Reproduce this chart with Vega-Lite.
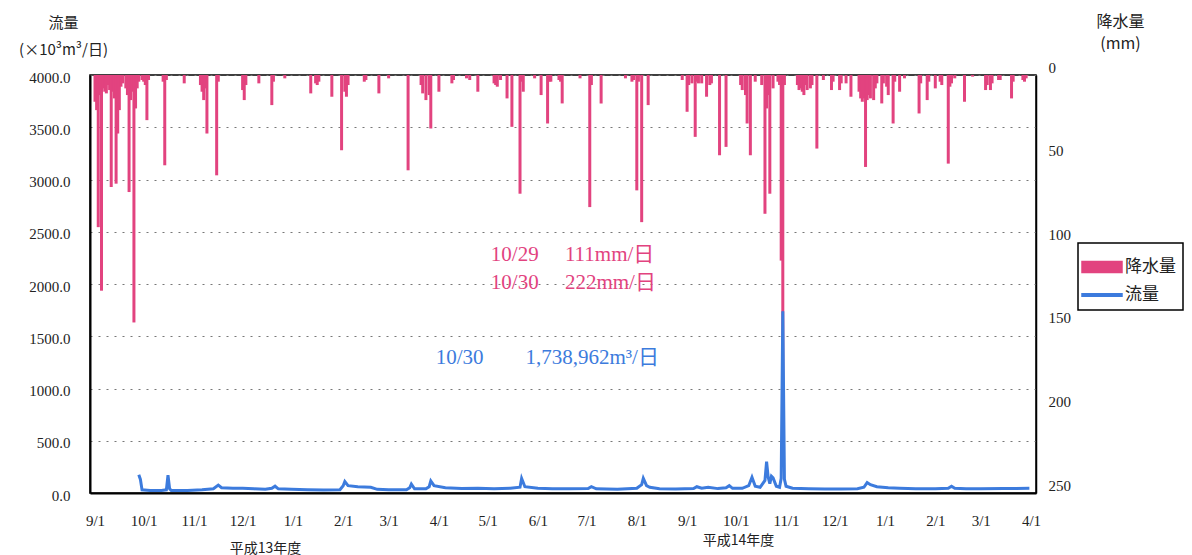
{
  "$schema": "https://vega.github.io/schema/vega-lite/v6.json",
  "width": 946,
  "height": 418,
  "autosize": {"type": "none"},
  "padding": {"left": 90, "top": 75, "right": 156, "bottom": 62},
  "background": "white",
  "config": {
    "view": {"stroke": "black", "strokeWidth": 1.5},
    "axis": {"labelColor": "#222", "titleColor": "#222", "titleFontWeight": "normal"}
  },
  "datasets": {
    "rain": [
      {"date": "2001/09/01", "mm": 16}, {"date": "2001/09/02", "mm": 21}, {"date": "2001/09/03", "mm": 91},
      {"date": "2001/09/04", "mm": 12}, {"date": "2001/09/05", "mm": 129}, {"date": "2001/09/06", "mm": 8},
      {"date": "2001/09/07", "mm": 10}, {"date": "2001/09/08", "mm": 11}, {"date": "2001/09/09", "mm": 6},
      {"date": "2001/09/10", "mm": 9}, {"date": "2001/09/11", "mm": 67}, {"date": "2001/09/12", "mm": 10},
      {"date": "2001/09/13", "mm": 14}, {"date": "2001/09/14", "mm": 65}, {"date": "2001/09/15", "mm": 35},
      {"date": "2001/09/16", "mm": 21}, {"date": "2001/09/17", "mm": 7}, {"date": "2001/09/18", "mm": 5},
      {"date": "2001/09/20", "mm": 8}, {"date": "2001/09/21", "mm": 12}, {"date": "2001/09/22", "mm": 70},
      {"date": "2001/09/23", "mm": 15}, {"date": "2001/09/24", "mm": 10}, {"date": "2001/09/25", "mm": 148},
      {"date": "2001/09/26", "mm": 20}, {"date": "2001/09/27", "mm": 8}, {"date": "2001/09/28", "mm": 4},
      {"date": "2001/09/30", "mm": 3}, {"date": "2001/10/01", "mm": 4}, {"date": "2001/10/02", "mm": 6},
      {"date": "2001/10/03", "mm": 27}, {"date": "2001/10/04", "mm": 3}, {"date": "2001/10/13", "mm": 4},
      {"date": "2001/10/14", "mm": 54}, {"date": "2001/10/15", "mm": 3}, {"date": "2001/10/26", "mm": 5},
      {"date": "2001/11/05", "mm": 6}, {"date": "2001/11/06", "mm": 10}, {"date": "2001/11/07", "mm": 15},
      {"date": "2001/11/08", "mm": 8}, {"date": "2001/11/09", "mm": 35}, {"date": "2001/11/15", "mm": 60},
      {"date": "2001/11/16", "mm": 4}, {"date": "2001/12/01", "mm": 9}, {"date": "2001/12/02", "mm": 15},
      {"date": "2001/12/03", "mm": 6}, {"date": "2001/12/11", "mm": 5}, {"date": "2001/12/19", "mm": 18},
      {"date": "2001/12/20", "mm": 4}, {"date": "2001/12/27", "mm": 2}, {"date": "2002/01/12", "mm": 11},
      {"date": "2002/01/15", "mm": 5}, {"date": "2002/01/16", "mm": 6}, {"date": "2002/01/17", "mm": 4},
      {"date": "2002/01/25", "mm": 13}, {"date": "2002/01/31", "mm": 45}, {"date": "2002/02/02", "mm": 10},
      {"date": "2002/02/03", "mm": 13}, {"date": "2002/02/04", "mm": 6}, {"date": "2002/02/14", "mm": 4},
      {"date": "2002/02/15", "mm": 3}, {"date": "2002/02/23", "mm": 11}, {"date": "2002/03/01", "mm": 2},
      {"date": "2002/03/13", "mm": 57}, {"date": "2002/03/21", "mm": 6}, {"date": "2002/03/22", "mm": 11},
      {"date": "2002/03/24", "mm": 15}, {"date": "2002/03/26", "mm": 12}, {"date": "2002/03/27", "mm": 32},
      {"date": "2002/04/01", "mm": 10}, {"date": "2002/04/09", "mm": 5}, {"date": "2002/04/10", "mm": 3},
      {"date": "2002/04/18", "mm": 2}, {"date": "2002/04/20", "mm": 3}, {"date": "2002/04/25", "mm": 10},
      {"date": "2002/05/05", "mm": 5}, {"date": "2002/05/06", "mm": 6}, {"date": "2002/05/07", "mm": 7},
      {"date": "2002/05/09", "mm": 3}, {"date": "2002/05/13", "mm": 14}, {"date": "2002/05/16", "mm": 31},
      {"date": "2002/05/21", "mm": 71}, {"date": "2002/05/22", "mm": 4}, {"date": "2002/05/23", "mm": 10},
      {"date": "2002/05/30", "mm": 2}, {"date": "2002/06/03", "mm": 12}, {"date": "2002/06/07", "mm": 29},
      {"date": "2002/06/08", "mm": 4}, {"date": "2002/06/09", "mm": 4}, {"date": "2002/06/14", "mm": 3},
      {"date": "2002/06/15", "mm": 4}, {"date": "2002/06/16", "mm": 17}, {"date": "2002/06/27", "mm": 2},
      {"date": "2002/07/03", "mm": 79}, {"date": "2002/07/04", "mm": 6}, {"date": "2002/07/10", "mm": 17},
      {"date": "2002/07/25", "mm": 2}, {"date": "2002/07/29", "mm": 4}, {"date": "2002/07/30", "mm": 3},
      {"date": "2002/08/01", "mm": 69}, {"date": "2002/08/02", "mm": 4}, {"date": "2002/08/04", "mm": 88},
      {"date": "2002/08/08", "mm": 18}, {"date": "2002/08/29", "mm": 3}, {"date": "2002/09/01", "mm": 22},
      {"date": "2002/09/02", "mm": 6}, {"date": "2002/09/04", "mm": 5}, {"date": "2002/09/06", "mm": 37},
      {"date": "2002/09/07", "mm": 4}, {"date": "2002/09/08", "mm": 5}, {"date": "2002/09/10", "mm": 5},
      {"date": "2002/09/13", "mm": 13}, {"date": "2002/09/15", "mm": 6}, {"date": "2002/09/16", "mm": 5},
      {"date": "2002/09/21", "mm": 48}, {"date": "2002/09/25", "mm": 43}, {"date": "2002/10/04", "mm": 6},
      {"date": "2002/10/05", "mm": 9}, {"date": "2002/10/07", "mm": 12}, {"date": "2002/10/08", "mm": 29},
      {"date": "2002/10/10", "mm": 48}, {"date": "2002/10/13", "mm": 4}, {"date": "2002/10/17", "mm": 6},
      {"date": "2002/10/19", "mm": 83}, {"date": "2002/10/20", "mm": 20}, {"date": "2002/10/21", "mm": 12},
      {"date": "2002/10/22", "mm": 71}, {"date": "2002/10/24", "mm": 8}, {"date": "2002/10/27", "mm": 4},
      {"date": "2002/10/28", "mm": 6}, {"date": "2002/10/29", "mm": 111}, {"date": "2002/10/30", "mm": 222},
      {"date": "2002/10/31", "mm": 6}, {"date": "2002/11/08", "mm": 6}, {"date": "2002/11/09", "mm": 9},
      {"date": "2002/11/10", "mm": 8}, {"date": "2002/11/11", "mm": 10}, {"date": "2002/11/12", "mm": 12},
      {"date": "2002/11/13", "mm": 6}, {"date": "2002/11/14", "mm": 9}, {"date": "2002/11/16", "mm": 8},
      {"date": "2002/11/17", "mm": 6}, {"date": "2002/11/20", "mm": 44}, {"date": "2002/11/24", "mm": 3},
      {"date": "2002/11/29", "mm": 9}, {"date": "2002/11/30", "mm": 4}, {"date": "2002/12/04", "mm": 9},
      {"date": "2002/12/05", "mm": 5}, {"date": "2002/12/08", "mm": 5}, {"date": "2002/12/11", "mm": 13},
      {"date": "2002/12/16", "mm": 10}, {"date": "2002/12/17", "mm": 14}, {"date": "2002/12/18", "mm": 16},
      {"date": "2002/12/19", "mm": 14}, {"date": "2002/12/20", "mm": 55}, {"date": "2002/12/21", "mm": 15},
      {"date": "2002/12/22", "mm": 12}, {"date": "2002/12/23", "mm": 14}, {"date": "2002/12/25", "mm": 15},
      {"date": "2002/12/26", "mm": 8}, {"date": "2002/12/27", "mm": 5}, {"date": "2002/12/30", "mm": 17},
      {"date": "2002/12/31", "mm": 5}, {"date": "2003/01/02", "mm": 7}, {"date": "2003/01/03", "mm": 12},
      {"date": "2003/01/06", "mm": 29}, {"date": "2003/01/07", "mm": 4}, {"date": "2003/01/10", "mm": 10},
      {"date": "2003/01/13", "mm": 2}, {"date": "2003/01/22", "mm": 23}, {"date": "2003/01/23", "mm": 5},
      {"date": "2003/01/27", "mm": 15}, {"date": "2003/01/28", "mm": 4}, {"date": "2003/02/01", "mm": 8},
      {"date": "2003/02/04", "mm": 4}, {"date": "2003/02/05", "mm": 6}, {"date": "2003/02/09", "mm": 53},
      {"date": "2003/02/10", "mm": 7}, {"date": "2003/02/11", "mm": 5}, {"date": "2003/02/13", "mm": 2},
      {"date": "2003/02/19", "mm": 16}, {"date": "2003/02/24", "mm": 1}, {"date": "2003/03/04", "mm": 9},
      {"date": "2003/03/05", "mm": 6}, {"date": "2003/03/07", "mm": 9}, {"date": "2003/03/08", "mm": 5},
      {"date": "2003/03/12", "mm": 3}, {"date": "2003/03/13", "mm": 3}, {"date": "2003/03/20", "mm": 14},
      {"date": "2003/03/21", "mm": 4}, {"date": "2003/03/27", "mm": 3}, {"date": "2003/03/28", "mm": 4},
      {"date": "2003/03/29", "mm": 2}
    ],
    "flow": [
      {"date": "2001/09/28", "flow": 175}, {"date": "2001/09/29", "flow": 130}, {"date": "2001/09/30", "flow": 30},
      {"date": "2001/10/05", "flow": 25}, {"date": "2001/10/12", "flow": 25}, {"date": "2001/10/15", "flow": 30},
      {"date": "2001/10/16", "flow": 170}, {"date": "2001/10/17", "flow": 40}, {"date": "2001/10/18", "flow": 25},
      {"date": "2001/10/28", "flow": 25}, {"date": "2001/11/06", "flow": 30}, {"date": "2001/11/13", "flow": 40},
      {"date": "2001/11/16", "flow": 75}, {"date": "2001/11/18", "flow": 50}, {"date": "2001/11/25", "flow": 45},
      {"date": "2001/12/01", "flow": 45}, {"date": "2001/12/08", "flow": 40}, {"date": "2001/12/15", "flow": 35},
      {"date": "2001/12/19", "flow": 45}, {"date": "2001/12/21", "flow": 65}, {"date": "2001/12/23", "flow": 40},
      {"date": "2001/12/31", "flow": 35}, {"date": "2002/01/10", "flow": 30}, {"date": "2002/01/20", "flow": 28},
      {"date": "2002/01/30", "flow": 32}, {"date": "2002/02/01", "flow": 70}, {"date": "2002/02/02", "flow": 110},
      {"date": "2002/02/04", "flow": 70}, {"date": "2002/02/10", "flow": 60}, {"date": "2002/02/18", "flow": 55},
      {"date": "2002/02/22", "flow": 35}, {"date": "2002/03/01", "flow": 30}, {"date": "2002/03/12", "flow": 30},
      {"date": "2002/03/14", "flow": 50}, {"date": "2002/03/15", "flow": 85}, {"date": "2002/03/17", "flow": 40},
      {"date": "2002/03/24", "flow": 40}, {"date": "2002/03/26", "flow": 60}, {"date": "2002/03/27", "flow": 115},
      {"date": "2002/03/29", "flow": 70}, {"date": "2002/04/05", "flow": 50}, {"date": "2002/04/15", "flow": 42},
      {"date": "2002/04/25", "flow": 45}, {"date": "2002/05/05", "flow": 40}, {"date": "2002/05/15", "flow": 45},
      {"date": "2002/05/21", "flow": 55}, {"date": "2002/05/22", "flow": 140}, {"date": "2002/05/24", "flow": 60},
      {"date": "2002/06/01", "flow": 45}, {"date": "2002/06/10", "flow": 40}, {"date": "2002/06/20", "flow": 40},
      {"date": "2002/07/02", "flow": 42}, {"date": "2002/07/04", "flow": 60}, {"date": "2002/07/07", "flow": 40},
      {"date": "2002/07/20", "flow": 35}, {"date": "2002/08/01", "flow": 45}, {"date": "2002/08/04", "flow": 80},
      {"date": "2002/08/05", "flow": 140}, {"date": "2002/08/07", "flow": 70}, {"date": "2002/08/09", "flow": 55},
      {"date": "2002/08/15", "flow": 40}, {"date": "2002/08/25", "flow": 38}, {"date": "2002/09/05", "flow": 42},
      {"date": "2002/09/07", "flow": 60}, {"date": "2002/09/10", "flow": 45}, {"date": "2002/09/14", "flow": 55},
      {"date": "2002/09/20", "flow": 42}, {"date": "2002/09/25", "flow": 50}, {"date": "2002/09/27", "flow": 70},
      {"date": "2002/09/29", "flow": 45}, {"date": "2002/10/05", "flow": 45}, {"date": "2002/10/09", "flow": 70},
      {"date": "2002/10/11", "flow": 150}, {"date": "2002/10/13", "flow": 65}, {"date": "2002/10/16", "flow": 55},
      {"date": "2002/10/19", "flow": 120}, {"date": "2002/10/20", "flow": 300}, {"date": "2002/10/21", "flow": 150},
      {"date": "2002/10/22", "flow": 90}, {"date": "2002/10/23", "flow": 160}, {"date": "2002/10/24", "flow": 145},
      {"date": "2002/10/26", "flow": 65}, {"date": "2002/10/28", "flow": 55}, {"date": "2002/10/29", "flow": 140},
      {"date": "2002/10/30", "flow": 1739}, {"date": "2002/10/31", "flow": 130}, {"date": "2002/11/01", "flow": 65},
      {"date": "2002/11/05", "flow": 45}, {"date": "2002/11/15", "flow": 40}, {"date": "2002/11/25", "flow": 38},
      {"date": "2002/12/05", "flow": 38}, {"date": "2002/12/15", "flow": 40}, {"date": "2002/12/19", "flow": 55},
      {"date": "2002/12/21", "flow": 100}, {"date": "2002/12/23", "flow": 80}, {"date": "2002/12/27", "flow": 60},
      {"date": "2003/01/03", "flow": 50}, {"date": "2003/01/10", "flow": 45}, {"date": "2003/01/20", "flow": 40},
      {"date": "2003/02/01", "flow": 40}, {"date": "2003/02/09", "flow": 45}, {"date": "2003/02/11", "flow": 65},
      {"date": "2003/02/13", "flow": 45}, {"date": "2003/02/20", "flow": 40}, {"date": "2003/03/01", "flow": 40},
      {"date": "2003/03/15", "flow": 42}, {"date": "2003/03/31", "flow": 45}
    ],
    "notes": [
      {"date": "2002/05/03", "flow": 2278, "label": "10/29　 111mm/日", "kind": "rain"},
      {"date": "2002/05/03", "flow": 2010, "label": "10/30　 222mm/日", "kind": "rain"},
      {"date": "2002/03/30", "flow": 1292, "label": "10/30　　1,738,962m³/日", "kind": "flow"}
    ]
  },
  "layer": [
    {
      "data": {"name": "rain"},
      "mark": {"type": "bar", "size": 3},
      "encoding": {
        "x": {
          "field": "date", "type": "temporal",
          "scale": {"domain": [{"year": 2001, "month": 9, "date": 1}, {"year": 2003, "month": 4, "date": 1}]},
          "axis": {
            "orient": "bottom", "format": "%-m/%-d", "tickCount": {"interval": "month", "step": 1},
            "grid": false, "ticks": false, "domainColor": "black", "domainWidth": 2,
            "labelFont": "Liberation Serif", "labelFontSize": 15, "labelPadding": 20, "labelDx": -5,
            "labelOverlap": false, "labelFlush": false,
            "title": "平成13年度", "titleFont": "Noto Sans CJK JP", "titleFontSize": 14,
            "titleX": 175, "titleY": 55, "titleAlign": "center", "titleBaseline": "middle", "titleAnchor": null
          }
        },
        "y": {
          "field": "mm", "type": "quantitative",
          "scale": {"domain": [0, 250], "reverse": true, "nice": false},
          "axis": {
            "orient": "right", "values": [0, 50, 100, 150, 200, 250], "grid": false, "ticks": false,
            "domainColor": "black", "domainWidth": 1.5,
            "labelFont": "Liberation Serif", "labelFontSize": 15, "labelPadding": 12, "labelOffset": -8,
            "title": ["降水量", "(mm)"], "titleFont": "Noto Sans CJK JP", "titleFontSize": 16,
            "titleAngle": 0, "titleX": 84, "titleY": -62, "titleAlign": "center", "titleBaseline": "top",
            "titleLineHeight": 22
          }
        },
        "color": {
          "datum": "降水量", "type": "nominal",
          "scale": {"domain": ["降水量", "流量"], "range": ["#E2437F", "#3C7BDD"]},
          "legend": {
            "orient": "none", "legendX": 988, "legendY": 168, "title": null,
            "strokeColor": "black", "padding": 7, "symbolSize": 1024, "rowPadding": 2, "labelOffset": 6,
            "labelFont": "Noto Sans CJK JP", "labelFontSize": 17, "labelColor": "#222",
            "encode": {
              "legend": {"update": {"strokeWidth": {"value": 1.5}}},
              "symbols": {"update": {
                "shape": {"signal": "datum.value === '降水量' ? 'M-1.25,-0.35H1.25V0.35H-1.25Z' : 'M-1.25,-0.08H1.25V0.08H-1.25Z'"},
                "fill": {"signal": "datum.value === '降水量' ? '#E2437F' : '#3C7BDD'"},
                "stroke": {"value": "transparent"},
                "opacity": {"value": 1}
              }}
            }
          }
        }
      }
    },
    {
      "layer": [
        {
          "data": {"name": "flow"},
          "mark": {"type": "line", "strokeWidth": 3},
          "encoding": {
            "x": {
              "field": "date", "type": "temporal",
              "axis": {
                "orient": "bottom", "labels": false, "ticks": false, "domain": false, "grid": false,
                "title": "平成14年度", "titleFont": "Noto Sans CJK JP", "titleFontSize": 14,
                "titleX": 648, "titleY": 47, "titleAlign": "center", "titleBaseline": "middle", "titleAnchor": null
              }
            },
            "y": {
              "field": "flow", "type": "quantitative",
              "scale": {"domain": [0, 4000], "nice": false},
              "axis": {
                "orient": "left", "values": [0, 500, 1000, 1500, 2000, 2500, 3000, 3500, 4000], "format": ".1f",
                "grid": true, "gridColor": "#777", "gridDash": [2, 6], "gridWidth": 1,
                "ticks": false, "domainColor": "black", "domainWidth": 2,
                "labelFont": "Liberation Serif", "labelFontSize": 15, "labelPadding": 20, "labelOffset": 2,
                "title": ["流量", "(×10³m³/日)"], "titleFont": "Noto Sans CJK JP", "titleFontSize": 15,
                "titleAngle": 0, "titleX": -27, "titleY": -60, "titleAlign": "center", "titleBaseline": "top",
                "titleLineHeight": 27
              }
            },
            "color": {"datum": "流量", "type": "nominal"}
          }
        },
        {
          "data": {"name": "notes"},
          "transform": [{"filter": "datum.kind === 'rain'"}],
          "mark": {"type": "text", "align": "left", "baseline": "middle", "color": "#E2437F",
                   "font": "Liberation Serif, Noto Sans CJK JP", "fontSize": 21},
          "encoding": {
            "x": {"field": "date", "type": "temporal"},
            "y": {"field": "flow", "type": "quantitative"},
            "text": {"field": "label", "type": "nominal"}
          }
        },
        {
          "data": {"name": "notes"},
          "transform": [{"filter": "datum.kind === 'flow'"}],
          "mark": {"type": "text", "align": "left", "baseline": "middle", "color": "#3C7BDD",
                   "font": "Liberation Serif, Noto Sans CJK JP", "fontSize": 21},
          "encoding": {
            "x": {"field": "date", "type": "temporal"},
            "y": {"field": "flow", "type": "quantitative"},
            "text": {"field": "label", "type": "nominal"}
          }
        }
      ]
    }
  ],
  "resolve": {"scale": {"y": "independent"}, "axis": {"x": "independent"}}
}
